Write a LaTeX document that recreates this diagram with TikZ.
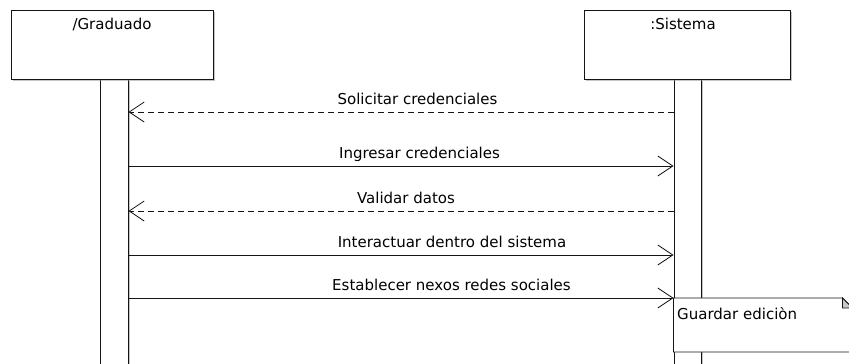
\documentclass[tikz,border=0pt]{standalone}
\usepackage{fontspec}
\setmainfont{DejaVu Sans}
\usetikzlibrary{arrows.meta,shadows,calc}
\definecolor{umlline}{RGB}{20,20,20}
\definecolor{umlshadow}{RGB}{140,140,140}
\definecolor{notefold}{RGB}{200,200,200}
\tikzset{
  lifebox/.style={draw=umlline,fill=white,line width=1pt,minimum height=69pt,inner sep=0pt,
    drop shadow={shadow xshift=1.5pt,shadow yshift=-1.5pt,fill=umlshadow,opacity=.5}},
  actbar/.style={lifebox,minimum height=300pt},
  umltext/.style={font=\fontsize{15}{18}\selectfont,anchor=base,inner sep=0pt},
  callmsg/.style={line width=0.9pt,umlline,-{Straight Barb[length=15pt,width=20pt,line width=0.8pt]}},
  replymsg/.style={callmsg,dash pattern=on 6pt off 4pt},
  notebox/.style={draw=umlline,fill=white,line width=0.9pt}
}
\begin{document}
\begin{tikzpicture}[x=1pt,y=-1pt]
  \clip (0,0) rectangle (849,364);
  \fill[white] (0,0) rectangle (849,364);
  % activation bars
  \node[actbar,minimum width=28pt] (gbar) at (114,229) {};
  \node[actbar,minimum width=27pt] (sbar) at (687.5,229) {};
  % lifeline heads
  \node[lifebox,minimum width=202pt] (grad) at (112,44.5) {};
  \node[lifebox,minimum width=206pt] (sist) at (687,44.5) {};
  \node[umltext] (gradname) at (112,29) {/Graduado};
  \node[umltext] (sistname) at (683,29) {:Sistema};
  % message rows
  \coordinate (r1) at (0,112);
  \coordinate (r2) at (0,166);
  \coordinate (r3) at (0,211);
  \coordinate (r4) at (0,255);
  \coordinate (r5) at (0,298);
  \draw[replymsg] (sbar.west |- r1) -- (gbar.east |- r1);
  \draw[callmsg] (gbar.east |- r2) -- (sbar.west |- r2);
  \draw[replymsg] (sbar.west |- r3) -- (gbar.east |- r3);
  \draw[callmsg] (gbar.east |- r4) -- (sbar.west |- r4);
  \draw[callmsg] (gbar.east |- r5) -- (sbar.west |- r5);
  \node[umltext] (m1) at (417.5,104) {Solicitar credenciales};
  \node[umltext] (m2) at (419.5,158) {Ingresar credenciales};
  \node[umltext] (m3) at (406,203) {Validar datos};
  \node[umltext] (m4) at (452,247) {Interactuar dentro del sistema};
  \node[umltext] (m5) at (451.5,290) {Establecer nexos redes sociales};
  % note
  \coordinate (nt) at (sbar.west |- r5);
  \draw[notebox] (nt) -- ++(169,0) -- ++(10,10) -- (853,352) -- (nt |- 0,352) -- cycle;
  \filldraw[draw=umlline,fill=notefold,line width=0.8pt] ($(nt)+(169,0)$) -- ++(0,10) -- ++(10,0) -- cycle;
  \node[umltext,anchor=base west] (note) at (677,319) {Guardar ediciòn};
\end{tikzpicture}
\end{document}
